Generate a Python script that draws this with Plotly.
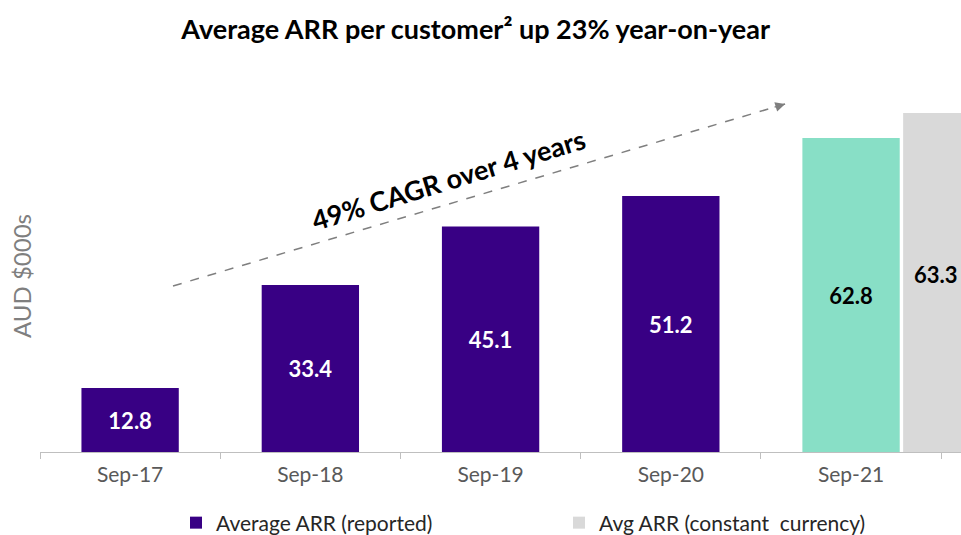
import plotly.graph_objects as go

categories = ["Sep-17", "Sep-18", "Sep-19", "Sep-20", "Sep-21"]
reported = [12.8, 33.4, 45.1, 51.2]
reported_cats = categories[:4]
latest_cat = ["Sep-21"]
latest_value = [62.8]
constant_ccy_value = [63.3]

title_text = "Average ARR per customer² up 23% year-on-year"
cagr_text = "49% CAGR over 4 years"

PURPLE = "#380084"
TEAL = "#88DFC6"
GREY = "#D9D9D9"
FONT = "Lato"

fig = go.Figure()
fig.add_trace(go.Bar(
    x=reported_cats, y=reported, name="Average ARR (reported)",
    marker=dict(color=PURPLE, line=dict(width=0)), width=0.54,
    text=[f"{v:.1f}" for v in reported], textposition="inside",
    insidetextanchor="middle",
    textfont=dict(color="white", size=22, family=FONT, weight="bold"),
))
fig.add_trace(go.Bar(
    x=latest_cat, y=latest_value, name="Sep-21 reported", showlegend=False,
    marker=dict(color=TEAL, line=dict(width=0)), width=0.54,
    text=[f"{v:.1f}" for v in latest_value], textposition="inside",
    insidetextanchor="middle",
    textfont=dict(color="black", size=22, family=FONT, weight="bold"),
))
fig.add_trace(go.Bar(
    x=latest_cat, y=constant_ccy_value, name="Avg ARR (constant  currency)",
    marker=dict(color=GREY, line=dict(width=0)), width=0.54, offset=0.289,
    yaxis="y2",
))

# label for constant currency bar
fig.add_annotation(
    x=4.47, y=constant_ccy_value[0] * 0.523, xref="x", yref="y2",
    text=f"<b>{constant_ccy_value[0]:.1f}</b>", showarrow=False,
    font=dict(color="black", size=22, family=FONT),
)

# dashed trend arrow
x0, y0, x1, y1 = 0.238, 33.2, 3.634, 69.6
fig.add_shape(type="line", xref="x", yref="y", x0=x0, y0=y0, x1=x1, y1=y1,
              line=dict(color="#7F7F7F", width=1.5, dash="dash"))
fig.add_annotation(x=x1, y=y1, xref="x", yref="y", ax=-12, ay=3.6,
                   axref="pixel", ayref="pixel", text="", showarrow=True,
                   arrowhead=2, arrowsize=1.3, arrowwidth=1.5,
                   arrowcolor="#7F7F7F", standoff=0)
fig.add_annotation(
    x=(448 - 40) / 180.2 - 0.5, y=(452 - 179) / 5.0, xref="x", yref="y",
    text=f"<b>{cagr_text}</b>", showarrow=False, textangle=-17,
    font=dict(color="black", size=27, family=FONT),
)

fig.update_layout(
    width=961, height=535,
    margin=dict(l=40, r=0, t=100, b=83, autoexpand=False),
    paper_bgcolor="white", plot_bgcolor="white",
    barmode="overlay",
    title=dict(text=f"<b>{title_text}</b>", x=0.495, xanchor="center",
               y=0.945, yanchor="middle",
               font=dict(size=27, color="black", family=FONT)),
    font=dict(family=FONT, color="#595959"),
    xaxis=dict(type="category", range=[-0.5, 4.61], tickson="boundaries",
               showline=True, linecolor="#BFBFBF", linewidth=1,
               ticks="outside", ticklen=6, tickcolor="#BFBFBF",
               ticklabelstandoff=4, automargin=False,
               tickfont=dict(size=21, color="#595959", family=FONT),
               showgrid=False, zeroline=False, fixedrange=True),
    yaxis=dict(range=[0, 70.4], showticklabels=False, showgrid=False,
               zeroline=False, showline=False, automargin=False,
               title=dict(text="AUD $000s", standoff=0,
                          font=dict(size=24, color="#7F7F7F", family=FONT))),
    yaxis2=dict(range=[0, 65.73], overlaying="y", side="left",
                showticklabels=False, showgrid=False, zeroline=False,
                showline=False, visible=False),
    legend=dict(orientation="h", x=(176 - 40) / 921, xanchor="left",
                y=-(523 - 452) / 352, yanchor="middle",
                entrywidth=338, entrywidthmode="pixels",
                font=dict(size=21, color="#262626", family=FONT),
                traceorder="normal"),
    showlegend=True,
)

fig.write_html(
    "out.html",
    config={"displayModeBar": False},
    post_script="document.body.style.margin='0';document.body.style.overflow='hidden';",
)
